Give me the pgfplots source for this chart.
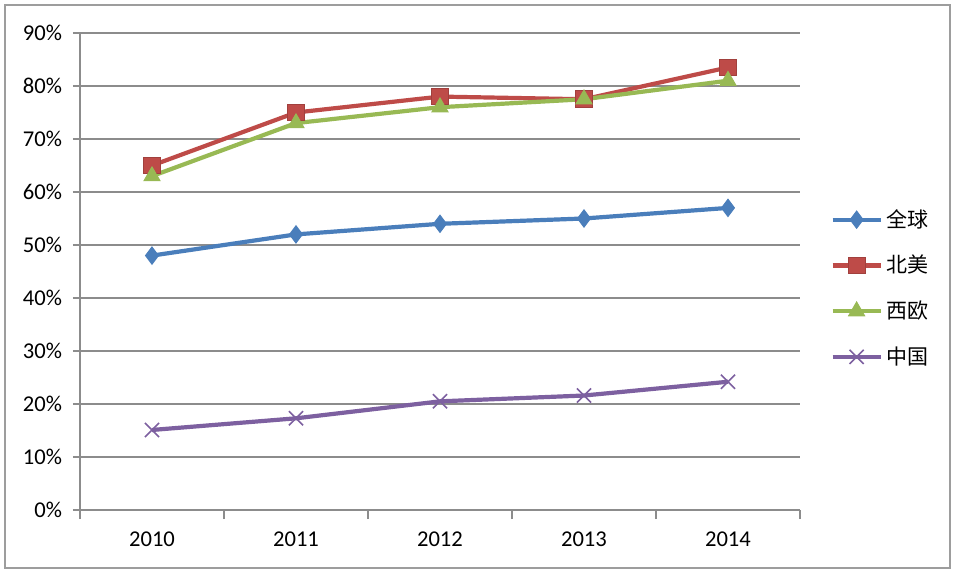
\documentclass[border=0pt]{standalone}
\usepackage{pgfplots}
\pgfplotsset{compat=1.18}
\usepackage{fontspec}
\setmainfont{Carlito}
\newfontfamily\cjk{Noto Sans CJK SC}
\definecolor{cBlue}{HTML}{4A7EBB}
\definecolor{cRed}{HTML}{BE4B48}
\definecolor{cGreen}{HTML}{98B954}
\definecolor{cPurple}{HTML}{7D60A0}
\definecolor{cGrid}{HTML}{8C8C8C}
\begin{document}
\begin{tikzpicture}
\path (0pt,0pt) rectangle (480pt,287pt);
\draw[color=cGrid!85, line width=1.2pt] (2.5pt,3pt) rectangle (475pt,284.5pt);
\begin{axis}[
  at={(40pt,32pt)}, anchor=south west,
  scale only axis, width=360pt, height=238.5pt,
  xmin=0.5, xmax=5.5, ymin=0, ymax=90,
  axis x line*=bottom, axis y line*=left,
  axis line style={cGrid, line width=0.7pt},
  xtick={1,2,3,4,5},
  xticklabels={2010,2011,2012,2013,2014},
  minor xtick={0.5,1.5,2.5,3.5,4.5,5.5},
  major x tick style={draw=none},
  minor x tick style={cGrid, line width=0.7pt},
  minor tick length=4.5pt,
  tick align=outside,
  ytick={0,10,...,90},
  yticklabels={0\%,10\%,20\%,30\%,40\%,50\%,60\%,70\%,80\%,90\%},
  major y tick style={cGrid, line width=0.7pt},
  major tick length=3.5pt,
  ymajorgrids, grid style={cGrid, line width=0.7pt},
  tick label style={font=\fontsize{11.3}{13}\selectfont, text=black},
  xticklabel style={yshift=-4pt},
  yticklabel style={xshift=-2pt},
  clip=false,
  legend style={at={(1.042,0.465)}, anchor=west, draw=none, fill=none,
    font=\cjk\fontsize{10.5}{12}\selectfont, row sep=8.5pt,
    inner sep=0pt},
  legend cell align=left,
  legend image code/.code={
    \draw[mark repeat=2, mark phase=2, #1] plot coordinates {(0cm,0cm) (0.42cm,0cm) (0.84cm,0cm)};
  },
]
\addplot[cBlue, line width=2.1pt, mark=diamond*, mark size=4.3pt, mark options={solid, fill=cBlue, draw=cBlue, line width=0.5pt}]
  coordinates {(1,48) (2,52) (3,54) (4,55) (5,57)};
\addlegendentry{全球}
\addplot[cRed, line width=2.1pt, mark=square*, mark size=4.2pt, mark options={solid, fill=cRed, draw=cRed!85!black, line width=0.5pt}]
  coordinates {(1,65) (2,75) (3,78) (4,77.5) (5,83.5)};
\addlegendentry{北美}
\addplot[cGreen, line width=2.1pt, mark=triangle*, mark size=4.6pt, mark options={solid, fill=cGreen, draw=cGreen, line width=0.5pt}]
  coordinates {(1,63) (2,73) (3,76) (4,77.5) (5,81)};
\addlegendentry{西欧}
\addplot[cPurple, line width=2.1pt, mark=x, mark size=5pt, mark options={solid, draw=cPurple, line width=0.8pt}]
  coordinates {(1,15.1) (2,17.3) (3,20.5) (4,21.6) (5,24.2)};
\addlegendentry{中国}
\end{axis}
\end{tikzpicture}
\end{document}
